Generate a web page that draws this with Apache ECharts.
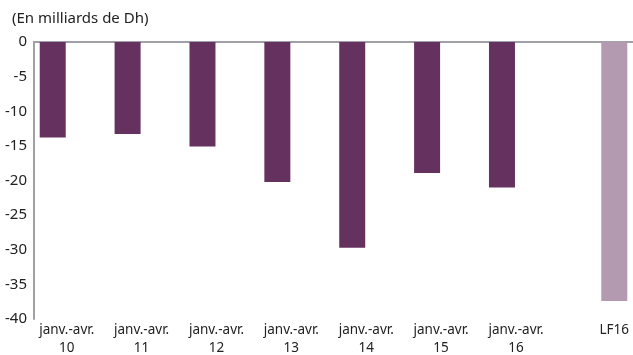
<!DOCTYPE html>
<html>
<head>
<meta charset="utf-8">
<script src="https://cdn.jsdelivr.net/npm/echarts@6/dist/echarts.min.js"></script>
<style>
  html, body { margin: 0; padding: 0; background: #fff; }
  #chart { width: 633px; height: 355px; }
</style>
</head>
<body>
<div id="chart"></div>
<script>
// données (en milliards de Dh)
const categories = ['janv.-avr.\n10', 'janv.-avr.\n11', 'janv.-avr.\n12', 'janv.-avr.\n13',
  'janv.-avr.\n14', 'janv.-avr.\n15', 'janv.-avr.\n16', 'LF16'];
const values = [-13.8, -13.3, -15.1, -20.2, -29.7, -18.9, -21.0, -37.4];
const yTicks = [0, -5, -10, -15, -20, -25, -30, -35, -40];

const darkPurple = '#65325f';
const lightPurple = '#b39ab0';

// 16 demi-cases : une barre toutes les deux cases, LF16 dans la dernière
const nSlots = 16;
const slotLabels = new Array(nSlots).fill('');
const slotValues = new Array(nSlots).fill(null);
categories.forEach((c, i) => {
  const slot = i === categories.length - 1 ? nSlots - 1 : i * 2;
  slotLabels[slot] = c;
  slotValues[slot] = {
    value: values[i],
    itemStyle: { color: i === categories.length - 1 ? lightPurple : darkPurple }
  };
});

const chart = echarts.init(document.getElementById('chart'));

const option = {
  animation: false,
  textStyle: { fontFamily: 'Noto Sans' },
  title: {
    text: '(En milliards de Dh)',
    left: 7,
    top: 6,
    textStyle: { fontSize: 15, fontWeight: 'normal', color: '#222' }
  },
  grid: { left: 34, top: 42, width: 600, height: 280 },
  xAxis: [
    {
      type: 'category',
      position: 'top',
      data: slotLabels,
      axisLine: { onZero: false, lineStyle: { color: '#a0a0a8', width: 2 } },
      axisTick: { show: false },
      axisLabel: { show: false }
    },
    {
      type: 'category',
      position: 'bottom',
      data: slotLabels,
      axisLine: { show: false },
      axisTick: { show: false },
      axisLabel: {
        interval: 0,
        margin: 2,
        color: '#222',
        fontSize: 13,
        formatter: function (v) {
          if (!v) return '';
          const tag = v === 'LF16' ? 'b' : 'a';
          return v.split('\n').map(s => '{' + tag + '|' + s + '}').join('\n');
        },
        rich: {
          a: { fontSize: 13.5, color: '#222', lineHeight: 18, padding: [0, 0, 0, 28] },
          b: { fontSize: 13.5, color: '#222', lineHeight: 18 }
        }
      }
    }
  ],
  yAxis: {
    type: 'value',
    min: yTicks[yTicks.length - 1],
    max: yTicks[0],
    interval: 5,
    axisLine: { show: true, lineStyle: { color: '#a0a0a8', width: 2 } },
    axisTick: { show: false },
    splitLine: { show: false },
    axisLabel: { color: '#222', fontSize: 15, margin: 7 }
  },
  series: [
    {
      type: 'bar',
      xAxisIndex: 0,
      data: slotValues,
      barWidth: 26
    }
  ]
};

chart.setOption(option);
</script>
</body>
</html>
